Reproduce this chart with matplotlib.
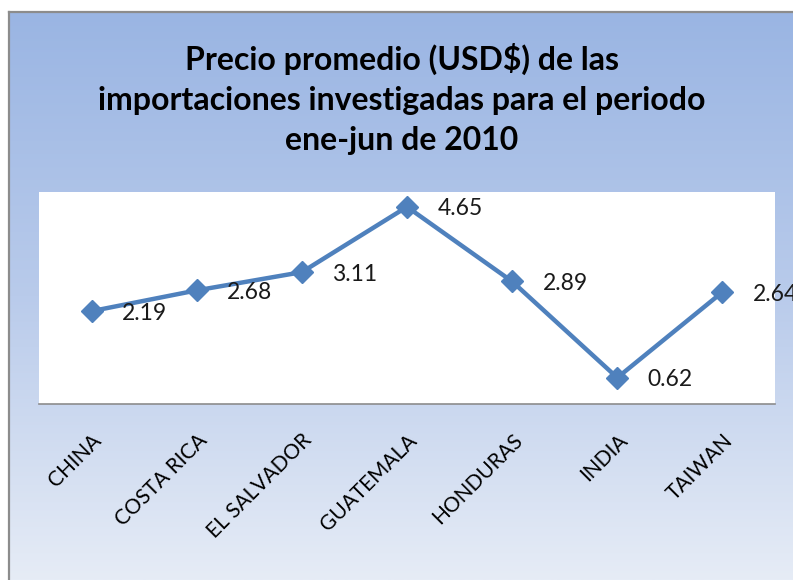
import numpy as np
import matplotlib
matplotlib.use("Agg")
import matplotlib.pyplot as plt
from matplotlib.lines import Line2D
from matplotlib.colors import LinearSegmentedColormap

categories = ["CHINA", "COSTA RICA", "EL SALVADOR", "GUATEMALA", "HONDURAS", "INDIA", "TAIWAN"]
values = [2.19, 2.68, 3.11, 4.65, 2.89, 0.62, 2.64]
title = "Precio promedio (USD$) de las\nimportaciones investigadas para el periodo\nene-jun de 2010"

W, H = 793, 580
fig = plt.figure(figsize=(W / 100, H / 100), dpi=100)
fig.patch.set_facecolor("white")

# gradient background panel
bx0, by_top = 9, 12
bg = fig.add_axes([bx0 / W, 0, 1 - bx0 / W, 1 - by_top / H])
cmap = LinearSegmentedColormap.from_list("g", ["#9ab5e3", "#b9cbeb", "#e6ecf6"])
grad = np.linspace(0, 1, 256).reshape(-1, 1)
bg.imshow(grad, aspect="auto", cmap=cmap, extent=[0, 1, 0, 1], origin="upper")
bg.set_axis_off()

# border lines
fig.add_artist(Line2D([bx0 / W, bx0 / W], [0, 1 - by_top / H], transform=fig.transFigure, color="#8c8c8c", lw=1.6))
fig.add_artist(Line2D([bx0 / W, 1], [1 - by_top / H, 1 - by_top / H], transform=fig.transFigure, color="#8c8c8c", lw=1.6))

fig.text(0.507, 0.829, title, ha="center", va="center", fontsize=23, fontweight="bold",
         family=["Lato", "DejaVu Sans"], linespacing=1.46, color="black")

# plot area
left, right, top, bottom = 39, 775, 192, 404
ax = fig.add_axes([left / W, 1 - bottom / H, (right - left) / W, (bottom - top) / H])
ax.set_facecolor("white")
x = np.arange(len(categories))
ax.plot(x, values, color="#4f81bd", lw=3.2, marker="D", markersize=11, zorder=3, clip_on=False)
ax.set_xlim(-0.5, len(categories) - 0.5)
ax.set_ylim(0, 5)
for xi, v in zip(x, values):
    ax.annotate(f"{v:.2f}", (xi, v), xytext=(22, -1.5), textcoords="offset points",
                ha="left", va="center", fontsize=16.5, family=["Lato", "DejaVu Sans"],
                color="#1a1a1a", annotation_clip=False)
for s in ["top", "left", "right"]:
    ax.spines[s].set_visible(False)
ax.spines["bottom"].set_color("#8c8c8c")
ax.spines["bottom"].set_linewidth(1.2)
ax.set_yticks([])
ax.set_xticks(x)
ax.set_xticklabels(categories, rotation=45, ha="right", va="top", rotation_mode="anchor",
                   fontsize=15, family=["Lato", "DejaVu Sans"])
ax.tick_params(axis="x", length=0, pad=19)

fig.savefig("out.png", dpi=100)
